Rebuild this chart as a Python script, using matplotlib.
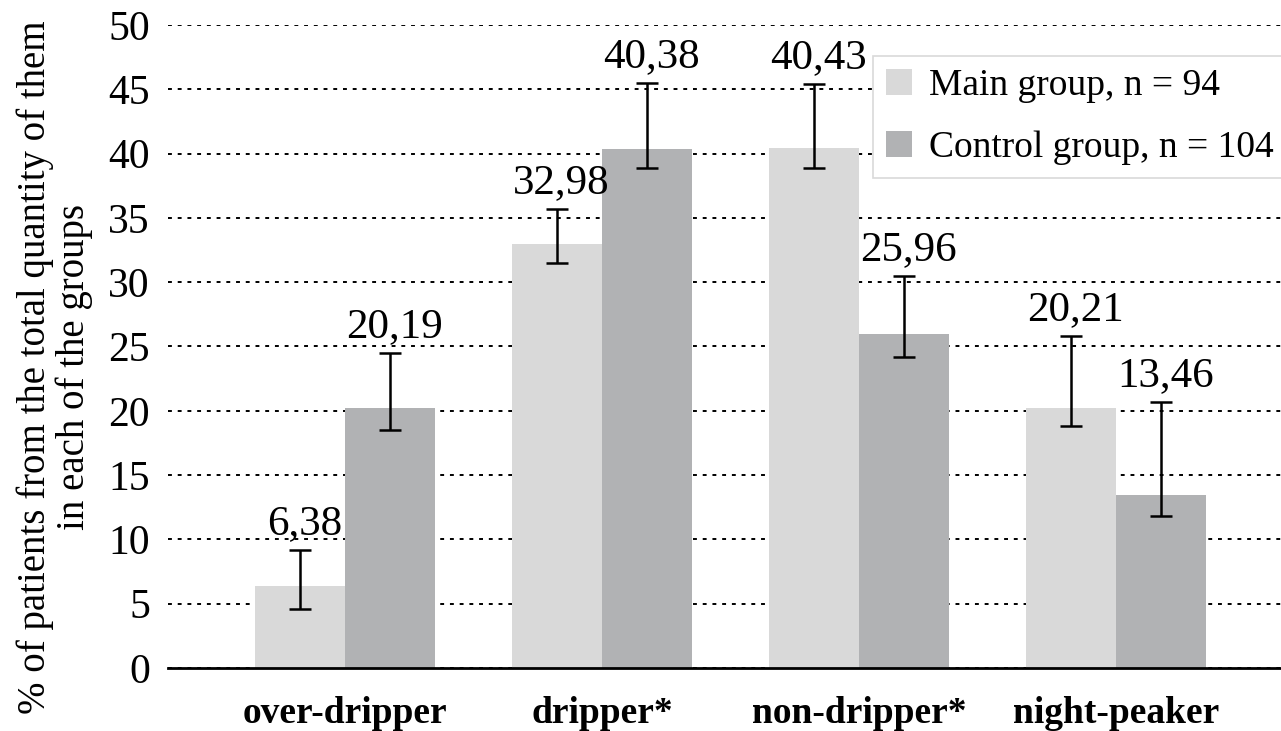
import numpy as np
import matplotlib
matplotlib.use("Agg")
import matplotlib.pyplot as plt

plt.rcParams['font.family'] = ['Liberation Serif', 'DejaVu Serif']

categories = ["over-dripper", "dripper*", "non-dripper*", "night-peaker"]
main_vals = [6.38, 32.98, 40.43, 20.21]
ctrl_vals = [20.19, 40.38, 25.96, 13.46]
main_labels = ["6,38", "32,98", "40,43", "20,21"]
ctrl_labels = ["20,19", "40,38", "25,96", "13,46"]
# confidence limits
main_low = [4.6, 31.5, 38.9, 18.8]
main_high = [9.2, 35.7, 45.4, 25.8]
ctrl_low = [18.5, 38.9, 24.2, 11.8]
ctrl_high = [24.5, 45.5, 30.5, 20.7]

fig = plt.figure(figsize=(12.81, 7.31), dpi=100)
ax = fig.add_axes([0.1311, 0.0862, 0.869, 0.8796])

x = np.arange(len(categories))
w = 0.35
for vals, lo, hi, labs, off, col, name in [
        (main_vals, main_low, main_high, main_labels, -w / 2, "#d9d9d9", "Main group, n = 94"),
        (ctrl_vals, ctrl_low, ctrl_high, ctrl_labels, w / 2, "#b1b2b4", "Control group, n = 104")]:
    vals = np.array(vals)
    err = [vals - np.array(lo), np.array(hi) - vals]
    ax.bar(x + off, vals, w, color=col, label=name, zorder=2)
    ax.errorbar(x + off, vals, yerr=err, fmt="none", ecolor="black",
                elinewidth=1.8, capsize=8, capthick=1.8, zorder=3)
    for xi, h, t in zip(x + off, hi, labs):
        ax.annotate(t, (xi, h), xytext=(3, 5), textcoords="offset points",
                    ha="center", va="bottom", fontsize=31)

ax.set_ylim(0, 50)
ax.set_yticks(range(0, 51, 5))
ax.set_xlim(-0.689, 3.642)
ax.set_xticks(x)
ax.set_xticklabels(categories, fontsize=27, fontweight="bold")
ax.tick_params(axis="y", labelsize=30, length=0, pad=13)
ax.tick_params(axis="x", length=0, pad=20)
ax.yaxis.grid(True, color="black", linestyle=(0, (2, 3)), linewidth=1.4, zorder=0)
ax.set_axisbelow(True)
for s in ["left", "right", "top"]:
    ax.spines[s].set_visible(False)
ax.spines["bottom"].set_linewidth(2)

fig.text(0.043, 0.498, "% of patients from the total quantity of them\nin each of the groups",
         rotation=90, ha="center", va="center", fontsize=28, linespacing=1.05)

leg = ax.legend(loc="upper left", bbox_to_anchor=(0.6334, 0.952), fontsize=27,
                frameon=True, fancybox=False, edgecolor="#d9d9d9", framealpha=1,
                handlelength=0.7, handleheight=0.7, handletextpad=0.45,
                labelspacing=0.72, borderpad=0.35, borderaxespad=0)
leg.get_frame().set_linewidth(1.2)
leg.set_zorder(5)

fig.savefig("out.png", dpi=100)
